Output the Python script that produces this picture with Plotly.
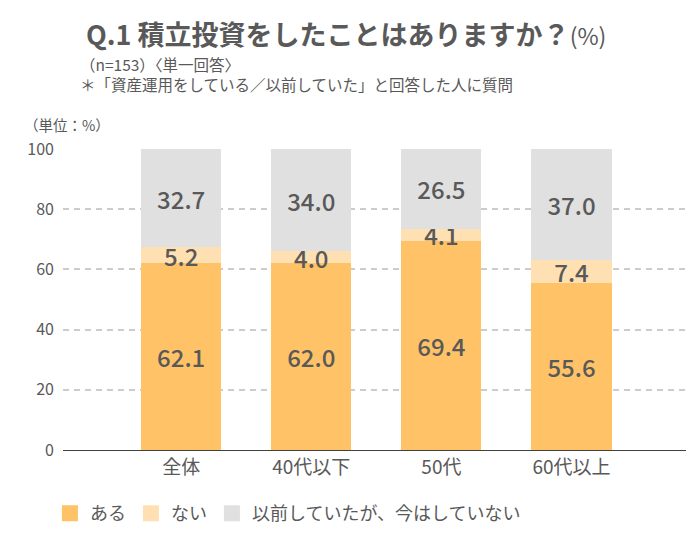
import plotly.graph_objects as go

categories = ["全体", "40代以下", "50代", "60代以上"]
aru = [62.1, 62.0, 69.4, 55.6]
nai = [5.2, 4.0, 4.1, 7.4]
izen = [32.7, 34.0, 26.5, 37.0]
series_names = ["ある", "ない", "以前していたが、今はしていない"]
colors = ["#FFC266", "#FFE0B2", "#E0E0E0"]
yticks = [0, 20, 40, 60, 80, 100]

FONT = "Noto Sans CJK JP"
TXT = "#595959"

fig = go.Figure()
for name, vals, col in zip(series_names, [aru, nai, izen], colors):
    fig.add_trace(go.Bar(
        x=categories, y=vals, name=name, marker=dict(color=col, line=dict(width=0)),
        text=[f"{v:.1f}" for v in vals], textposition="inside",
        insidetextanchor="middle", constraintext="none", textangle=0,
        insidetextfont=dict(family=FONT, size=24, color=TXT, weight=500),
        cliponaxis=False, showlegend=False,
    ))
# legend entries with larger square swatches
for name, col in zip(series_names, colors):
    fig.add_trace(go.Scatter(
        x=[None], y=[None], mode="markers", name=name,
        marker=dict(symbol="square", size=21, color=col), showlegend=True,
    ))

fig.update_layout(
    barmode="stack", bargap=0.385,
    width=700, height=540,
    margin=dict(l=55, r=22, t=141, b=98),
    paper_bgcolor="white", plot_bgcolor="white",
    font=dict(family=FONT, color=TXT),
    legend=dict(orientation="h", x=-0.021, xanchor="left", y=-0.15, yanchor="top",
                font=dict(size=18, color=TXT), itemsizing="trace",
                traceorder="normal", itemwidth=30, tracegroupgap=0),
    xaxis=dict(range=[-0.908, 3.88], showline=True, linecolor="#404040", linewidth=1,
               tickfont=dict(size=19, color=TXT), ticks="", showgrid=False),
    yaxis=dict(range=[0, 100], tickvals=yticks, showgrid=True, gridcolor="#CCCCCC",
               griddash="6px,5px", gridwidth=2, zeroline=False, showline=False,
               tickfont=dict(size=16, color=TXT), ticklabelstandoff=8),
)

fig.add_annotation(xref="paper", yref="paper", x=-0.066, y=1.0, yshift=25,
                   xanchor="left", yanchor="middle", showarrow=False,
                   text="（単位：%）", font=dict(size=14.5, color=TXT))
fig.add_annotation(xref="paper", yref="paper", x=0.034, y=1.0, yshift=116,
                   xanchor="left", yanchor="middle", showarrow=False,
                   text="<b>Q.1 積立投資をしたことはありますか？</b><span style='font-size:23px'>(%)</span>",
                   font=dict(size=27, color=TXT))
fig.add_annotation(xref="paper", yref="paper", x=0.024, y=1.0, yshift=75,
                   xanchor="left", yanchor="middle", align="left", showarrow=False,
                   text="（n=153）〈単一回答〉<br>＊「資産運用をしている／以前していた」と回答した人に質問",
                   font=dict(size=15.5, color=TXT))

fig.write_html("out.html")
